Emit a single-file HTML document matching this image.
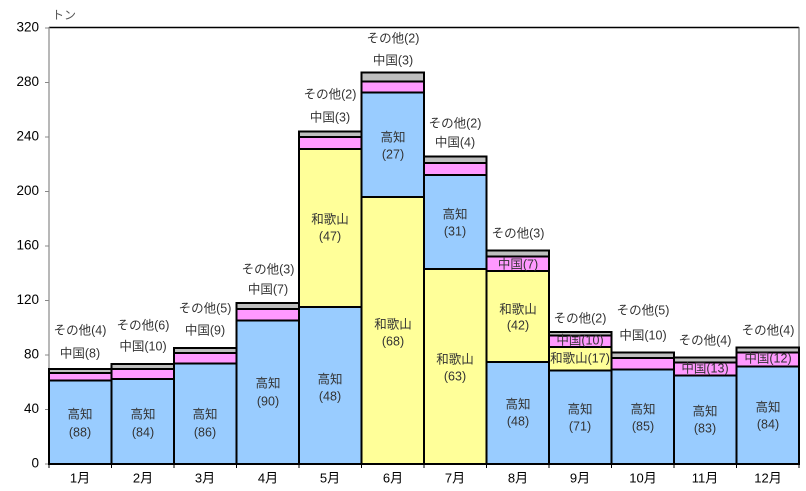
<!DOCTYPE html>
<html><head><meta charset="utf-8"><style>
html,body{margin:0;padding:0;background:#fff;}
svg{display:block;font-family:"Liberation Sans","Noto Sans CJK JP",sans-serif;}
.l{font-size:12.5px;fill:#333;text-anchor:middle;dominant-baseline:middle;}
.ax{font-size:13.5px;fill:#000;}
</style></head><body>
<svg width="806" height="491" viewBox="0 0 806 491" xmlns="http://www.w3.org/2000/svg">
<rect width="806" height="491" fill="#fff"/>
<line x1="49" y1="27.5" x2="799" y2="27.5" stroke="#000" stroke-width="1.5"/>
<line x1="799" y1="27" x2="799" y2="464" stroke="#555" stroke-width="1"/>
<line x1="49" y1="27" x2="49" y2="464" stroke="#888" stroke-width="1.2"/>
<g stroke="#888" stroke-width="1">
<line x1="45" y1="28" x2="49" y2="28"/><line x1="45" y1="82.5" x2="49" y2="82.5"/><line x1="45" y1="137" x2="49" y2="137"/><line x1="45" y1="191.5" x2="49" y2="191.5"/><line x1="45" y1="246" x2="49" y2="246"/><line x1="45" y1="300.5" x2="49" y2="300.5"/><line x1="45" y1="355" x2="49" y2="355"/><line x1="45" y1="409.5" x2="49" y2="409.5"/><line x1="45" y1="464" x2="49" y2="464"/>
</g>
<g class="ax" text-anchor="end" dominant-baseline="middle">
<text x="39" y="28">320</text><text x="39" y="82.5">280</text><text x="39" y="137">240</text><text x="39" y="191.5">200</text><text x="39" y="246">160</text><text x="39" y="300.5">120</text><text x="39" y="355">80</text><text x="39" y="409.5">40</text><text x="39" y="464">0</text>
</g>
<text x="52" y="19" style="font-size:12px;fill:#555">トン</text>
<g stroke="#000" stroke-width="2">
<rect x="49" y="369" width="62.5" height="4" fill="#bfbfbf"/><rect x="49" y="373" width="62.5" height="7.5" fill="#ff99ff"/><rect x="49" y="380.5" width="62.5" height="83.5" fill="#99ccff"/>
<rect x="111.5" y="364" width="62.5" height="5" fill="#bfbfbf"/><rect x="111.5" y="369" width="62.5" height="10" fill="#ff99ff"/><rect x="111.5" y="379" width="62.5" height="85" fill="#99ccff"/>
<rect x="174" y="348" width="62.5" height="5" fill="#bfbfbf"/><rect x="174" y="353" width="62.5" height="10.5" fill="#ff99ff"/><rect x="174" y="363.5" width="62.5" height="100.5" fill="#99ccff"/>
<rect x="236.5" y="303" width="62.5" height="6" fill="#bfbfbf"/><rect x="236.5" y="309" width="62.5" height="11.5" fill="#ff99ff"/><rect x="236.5" y="320.5" width="62.5" height="143.5" fill="#99ccff"/>
<rect x="299" y="131.5" width="62.5" height="5.5" fill="#bfbfbf"/><rect x="299" y="137" width="62.5" height="12" fill="#ff99ff"/><rect x="299" y="149" width="62.5" height="158" fill="#ffff99"/><rect x="299" y="307" width="62.5" height="157" fill="#99ccff"/>
<rect x="361.5" y="72.5" width="62.5" height="9" fill="#bfbfbf"/><rect x="361.5" y="81.5" width="62.5" height="11" fill="#ff99ff"/><rect x="361.5" y="92.5" width="62.5" height="104.5" fill="#99ccff"/><rect x="361.5" y="197" width="62.5" height="267" fill="#ffff99"/>
<rect x="424" y="156.5" width="62.5" height="6.5" fill="#bfbfbf"/><rect x="424" y="163" width="62.5" height="12" fill="#ff99ff"/><rect x="424" y="175" width="62.5" height="94" fill="#99ccff"/><rect x="424" y="269" width="62.5" height="195" fill="#ffff99"/>
<rect x="486.5" y="250.5" width="62.5" height="6" fill="#bfbfbf"/><rect x="486.5" y="256.5" width="62.5" height="14.5" fill="#ff99ff"/><rect x="486.5" y="271" width="62.5" height="91" fill="#ffff99"/><rect x="486.5" y="362" width="62.5" height="102" fill="#99ccff"/>
<rect x="549" y="332" width="62.5" height="3.5" fill="#bfbfbf"/><rect x="549" y="335.5" width="62.5" height="11.5" fill="#ff99ff"/><rect x="549" y="347" width="62.5" height="23.5" fill="#ffff99"/><rect x="549" y="370.5" width="62.5" height="93.5" fill="#99ccff"/>
<rect x="611.5" y="352.5" width="62.5" height="5.5" fill="#bfbfbf"/><rect x="611.5" y="358" width="62.5" height="11.5" fill="#ff99ff"/><rect x="611.5" y="369.5" width="62.5" height="94.5" fill="#99ccff"/>
<rect x="674" y="357.5" width="62.5" height="5" fill="#bfbfbf"/><rect x="674" y="362.5" width="62.5" height="13" fill="#ff99ff"/><rect x="674" y="375.5" width="62.5" height="88.5" fill="#99ccff"/>
<rect x="736.5" y="347.5" width="62.5" height="5" fill="#bfbfbf"/><rect x="736.5" y="352.5" width="62.5" height="14" fill="#ff99ff"/><rect x="736.5" y="366.5" width="62.5" height="97.5" fill="#99ccff"/>
</g>
<g stroke="#000" stroke-width="1">
<line x1="49" y1="464" x2="49" y2="468"/><line x1="111.5" y1="464" x2="111.5" y2="468"/><line x1="174" y1="464" x2="174" y2="468"/><line x1="236.5" y1="464" x2="236.5" y2="468"/><line x1="299" y1="464" x2="299" y2="468"/><line x1="361.5" y1="464" x2="361.5" y2="468"/><line x1="424" y1="464" x2="424" y2="468"/><line x1="486.5" y1="464" x2="486.5" y2="468"/><line x1="549" y1="464" x2="549" y2="468"/><line x1="611.5" y1="464" x2="611.5" y2="468"/><line x1="674" y1="464" x2="674" y2="468"/><line x1="736.5" y1="464" x2="736.5" y2="468"/><line x1="799" y1="464" x2="799" y2="468"/>
</g>
<g class="ax" text-anchor="middle" dominant-baseline="middle" style="font-size:13px">
<text x="80" y="479">1月</text><text x="143" y="479">2月</text><text x="205" y="479">3月</text><text x="268" y="479">4月</text><text x="330" y="479">5月</text><text x="393" y="479">6月</text><text x="455" y="479">7月</text><text x="518" y="479">8月</text><text x="580" y="479">9月</text><text x="643" y="479">10月</text><text x="705" y="479">11月</text><text x="768" y="479">12月</text>
</g>
<g class="l">
<text x="80" y="331">その他(4)</text><text x="80" y="354">中国(8)</text><text x="80" y="415">高知</text><text x="80" y="433">(88)</text>
<text x="143" y="326">その他(6)</text><text x="143" y="347">中国(10)</text><text x="143" y="415">高知</text><text x="143" y="433">(84)</text>
<text x="205" y="309">その他(5)</text><text x="205" y="331">中国(9)</text><text x="205" y="415">高知</text><text x="205" y="433">(86)</text>
<text x="268" y="270">その他(3)</text><text x="268" y="290">中国(7)</text><text x="268" y="384">高知</text><text x="268" y="402">(90)</text>
<text x="330" y="95">その他(2)</text><text x="330" y="118">中国(3)</text><text x="330" y="220">和歌山</text><text x="330" y="237">(47)</text><text x="330" y="380">高知</text><text x="330" y="397">(48)</text>
<text x="393" y="39">その他(2)</text><text x="393" y="61">中国(3)</text><text x="393" y="138">高知</text><text x="393" y="155">(27)</text><text x="393" y="325">和歌山</text><text x="393" y="342">(68)</text>
<text x="455" y="124">その他(2)</text><text x="455" y="143">中国(4)</text><text x="455" y="215">高知</text><text x="455" y="232">(31)</text><text x="455" y="360">和歌山</text><text x="455" y="377">(63)</text>
<text x="518" y="234">その他(3)</text><text x="518" y="265">中国(7)</text><text x="518" y="310">和歌山</text><text x="518" y="326">(42)</text><text x="518" y="405">高知</text><text x="518" y="422">(48)</text>
<text x="580" y="319">その他(2)</text><text x="580" y="341">中国(10)</text><text x="580" y="359">和歌山(17)</text><text x="580" y="410">高知</text><text x="580" y="427">(71)</text>
<text x="643" y="311">その他(5)</text><text x="643" y="336">中国(10)</text><text x="643" y="410">高知</text><text x="643" y="427">(85)</text>
<text x="705" y="341">その他(4)</text><text x="705" y="369">中国(13)</text><text x="705" y="412">高知</text><text x="705" y="429">(83)</text>
<text x="768" y="331">その他(4)</text><text x="768" y="359">中国(12)</text><text x="768" y="408">高知</text><text x="768" y="425">(84)</text>
</g>
</svg>
</body></html>
